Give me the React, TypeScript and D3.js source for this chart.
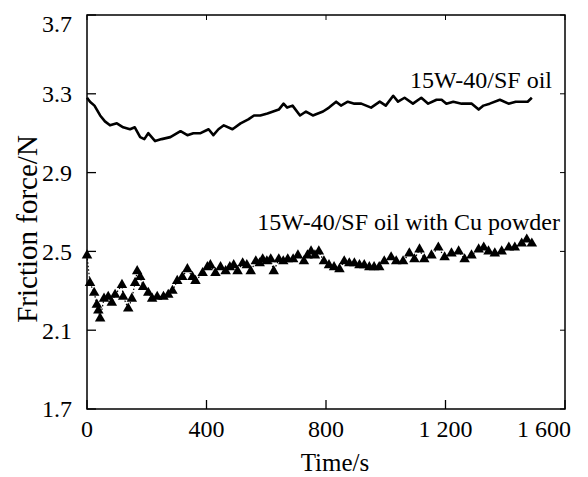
import React from "react";
import * as d3 from "d3";

// ---- data ----
const xTicks = [0, 400, 800, 1200, 1600];
const xTickLabels = ["0", "400", "800", "1 200", "1 600"];
const yTicks = [1.7, 2.1, 2.5, 2.9, 3.3, 3.7];
const yTickLabels = ["1.7", "2.1", "2.5", "2.9", "3.3", "3.7"];

const oilTime = [0, 10, 25, 44, 60, 77, 100, 121, 144, 160, 178, 192, 205, 228, 250, 279, 313, 336, 356, 380, 407, 423, 440, 458, 487, 514, 540, 559, 580, 604, 642, 658, 670, 688, 713, 733, 756, 773, 790, 810, 834, 850, 873, 895, 918, 951, 980, 1000, 1025, 1041, 1063, 1091, 1119, 1142, 1170, 1187, 1203, 1226, 1254, 1288, 1311, 1327, 1348, 1382, 1411, 1435, 1455, 1475, 1489];
const oilForce = [3.28, 3.26, 3.24, 3.19, 3.16, 3.14, 3.15, 3.13, 3.12, 3.13, 3.08, 3.07, 3.10, 3.06, 3.07, 3.08, 3.11, 3.09, 3.10, 3.10, 3.12, 3.09, 3.12, 3.14, 3.12, 3.15, 3.17, 3.19, 3.19, 3.20, 3.22, 3.25, 3.23, 3.24, 3.19, 3.21, 3.19, 3.20, 3.21, 3.23, 3.26, 3.24, 3.26, 3.25, 3.25, 3.23, 3.26, 3.24, 3.29, 3.26, 3.28, 3.25, 3.28, 3.25, 3.27, 3.27, 3.25, 3.26, 3.25, 3.25, 3.22, 3.24, 3.25, 3.27, 3.25, 3.26, 3.26, 3.26, 3.28];

const cuTime = [0, 10, 24, 33, 38, 44, 57, 71, 83, 94, 117, 121, 138, 150, 161, 168, 178, 188, 205, 218, 235, 256, 272, 286, 302, 319, 336, 353, 363, 387, 403, 413, 430, 447, 464, 478, 491, 504, 521, 535, 548, 565, 578, 588, 602, 615, 625, 642, 657, 672, 690, 706, 726, 738, 750, 763, 776, 793, 810, 827, 845, 861, 878, 895, 912, 928, 945, 961, 978, 995, 1018, 1035, 1058, 1079, 1096, 1113, 1129, 1153, 1176, 1197, 1220, 1244, 1264, 1287, 1311, 1328, 1344, 1365, 1388, 1412, 1432, 1455, 1472, 1489];
const cuForce = [2.48, 2.34, 2.29, 2.23, 2.20, 2.16, 2.26, 2.27, 2.24, 2.28, 2.33, 2.27, 2.21, 2.26, 2.34, 2.40, 2.37, 2.32, 2.29, 2.26, 2.27, 2.27, 2.28, 2.30, 2.35, 2.37, 2.41, 2.37, 2.35, 2.39, 2.42, 2.43, 2.39, 2.42, 2.40, 2.42, 2.43, 2.40, 2.44, 2.43, 2.40, 2.45, 2.44, 2.46, 2.45, 2.46, 2.40, 2.46, 2.45, 2.46, 2.46, 2.48, 2.45, 2.48, 2.50, 2.48, 2.50, 2.45, 2.43, 2.42, 2.41, 2.45, 2.44, 2.44, 2.43, 2.43, 2.42, 2.42, 2.42, 2.45, 2.47, 2.45, 2.45, 2.49, 2.46, 2.51, 2.46, 2.48, 2.52, 2.47, 2.49, 2.50, 2.46, 2.48, 2.51, 2.52, 2.50, 2.49, 2.50, 2.52, 2.52, 2.54, 2.56, 2.54];

const oilLabel = "15W-40/SF oil";
const cuLabel = "15W-40/SF oil with Cu powder";
const xTitle = "Time/s";
const yTitle = "Friction force/N";

const W = 588;
const H = 477;
const M = { left: 87, right: 565, top: 15, bottom: 409 };
const FONT = "\"Liberation Serif\", \"Times New Roman\", Times, serif";

export default function App() {
  const x = d3.scaleLinear().domain([0, 1600]).range([M.left, M.right]);
  const y = d3.scaleLinear().domain([1.7, 3.7]).range([M.bottom, M.top]);

  const oilPts = oilTime.map((t, i) => [t, oilForce[i]] as [number, number]);
  const cuPts = cuTime.map((t, i) => [t, cuForce[i]] as [number, number]);
  const line = d3
    .line<[number, number]>()
    .x((d) => x(d[0]))
    .y((d) => y(d[1]));
  const tri = d3.symbol().type(d3.symbolTriangle).size(48)() || "";
  const txt = { fontFamily: FONT, fill: "#000" } as React.CSSProperties;

  return (
    <svg width={W} height={H} style={{ position: "absolute", left: 0, top: 0, background: "#fff" }}>
      <rect x={0} y={0} width={W} height={H} fill="#fff" />
      {/* frame */}
      <rect
        x={M.left}
        y={M.top}
        width={M.right - M.left}
        height={M.bottom - M.top}
        fill="none"
        stroke="#000"
        strokeWidth={1.5}
      />
      {/* y ticks */}
      {yTicks.map((v, i) => (
        <g key={"y" + i}>
          <line x1={M.left} x2={M.left + 9} y1={y(v)} y2={y(v)} stroke="#000" strokeWidth={1.3} />
          <line x1={M.right} x2={M.right - 5} y1={y(v)} y2={y(v)} stroke="#000" strokeWidth={1} />
          <text x={72} y={Math.max(y(v), 24)} dy="0.35em" textAnchor="end" fontSize={24} style={txt}>
            {yTickLabels[i]}
          </text>
        </g>
      ))}
      {/* x ticks */}
      {xTicks.map((v, i) => {
        const last = i === xTicks.length - 1;
        return (
          <g key={"x" + i}>
            <line x1={x(v)} x2={x(v)} y1={M.bottom} y2={M.bottom - 9} stroke="#000" strokeWidth={1.3} />
            <line x1={x(v)} x2={x(v)} y1={M.top} y2={M.top + 5} stroke="#000" strokeWidth={1} />
            <text
              x={last ? 571 : x(v)}
              y={437}
              textAnchor={last ? "end" : "middle"}
              fontSize={24}
              style={txt}
            >
              {xTickLabels[i]}
            </text>
          </g>
        );
      })}
      {/* titles */}
      <text x={335} y={471} textAnchor="middle" fontSize={25} style={txt}>
        {xTitle}
      </text>
      <text transform={`translate(37,229) rotate(-90)`} textAnchor="middle" fontSize={29} style={txt}>
        {yTitle}
      </text>
      {/* series: oil */}
      <path d={line(oilPts) || ""} fill="none" stroke="#000" strokeWidth={2.6} strokeLinejoin="round" />
      {/* series: oil with Cu */}
      <path d={line(cuPts) || ""} fill="none" stroke="#000" strokeWidth={1.2} strokeDasharray="1.5,2" />
      {cuPts.map((d, i) => (
        <path key={"t" + i} d={tri} transform={`translate(${x(d[0])},${y(d[1])})`} fill="#000" />
      ))}
      {/* labels */}
      <text x={552} y={88} textAnchor="end" fontSize={24} style={txt}>
        {oilLabel}
      </text>
      <text x={560} y={230} textAnchor="end" fontSize={24} style={txt}>
        {cuLabel}
      </text>
    </svg>
  );
}
